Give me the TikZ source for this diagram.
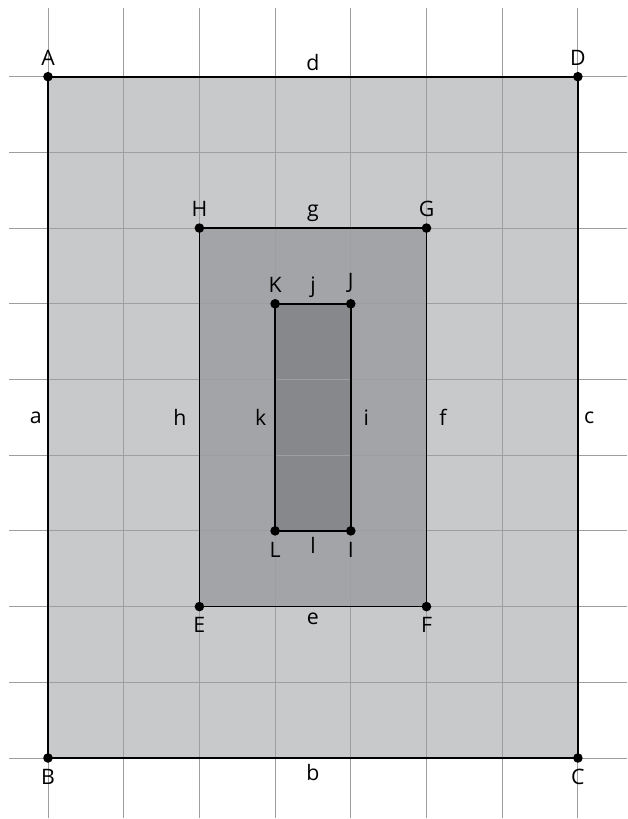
\documentclass[tikz,border=0pt]{standalone}
\usepackage{fontspec}
\setmainfont{Open Sans}
\usepackage{tikz}
\definecolor{outerfill}{RGB}{200,201,203}
\definecolor{midfill}{RGB}{163,164,167}
\definecolor{innerfill}{RGB}{135,136,139}
\definecolor{gridgray}{RGB}{158,158,160}

\begin{document}
\begin{tikzpicture}[font=\fontsize{8}{9}\selectfont,
			pt/.style={circle,fill=black,inner sep=0pt,minimum size=3.6pt},
			border/.style={draw=black,line width=0.65pt},
			gridline/.style={draw=gridgray,line width=0.35pt},
			lab/.style={inner sep=2pt},
			farlab/.style={inner sep=4.5pt}]
			\useasboundingbox (-0.634,-0.806) rectangle (7.65,10.013);
			% corners
			\coordinate (B) at (0,0); \coordinate (C) at (7,0);
			\coordinate (D) at (7,9); \coordinate (A) at (0,9);
			\coordinate (E) at (2,2); \coordinate (F) at (5,2);
			\coordinate (G) at (5,7); \coordinate (H) at (2,7);
			\coordinate (L) at (3,3); \coordinate (I) at (4,3);
			\coordinate (J) at (4,6); \coordinate (K) at (3,6);
			% fills
			\fill[outerfill] (B) rectangle (D);
			\fill[midfill] (E) rectangle (G);
			\fill[innerfill] (L) rectangle (J);
			% grid
			\foreach \x in {0,...,7}
				\draw[gridline] (\x,-0.79) -- (\x,9.91);
			\foreach \y in {0,...,9}
				\draw[gridline] (-0.515,\y) -- (7.65,\y);
			% sides
			\draw[border] (A) -- node[lab,above] {d} (D)
				-- node[lab,right] {c} (C)
				-- node[lab,below] {b} (B)
				-- node[lab,left] {a} cycle;
			\draw[border] (H) -- node[lab,above] {g} (G)
				-- node[farlab,right] {f} (F)
				-- node[lab,below] {e} (E)
				-- node[farlab,left] {h} cycle;
			\draw[border] (K) -- node[lab,above] {j} (J)
				-- node[farlab,right] {i} (I)
				-- node[lab,below] {l} (L)
				-- node[lab,left,inner sep=3pt] {k} cycle;
			% points
			\foreach \p/\pos in {A/above,D/above,H/above,G/above,K/above,J/above,
				B/below,C/below,E/below,F/below,L/below,I/below}
				\node[pt,label={[lab]\pos:\p}] at (\p) {};
		\end{tikzpicture}
\end{document}
